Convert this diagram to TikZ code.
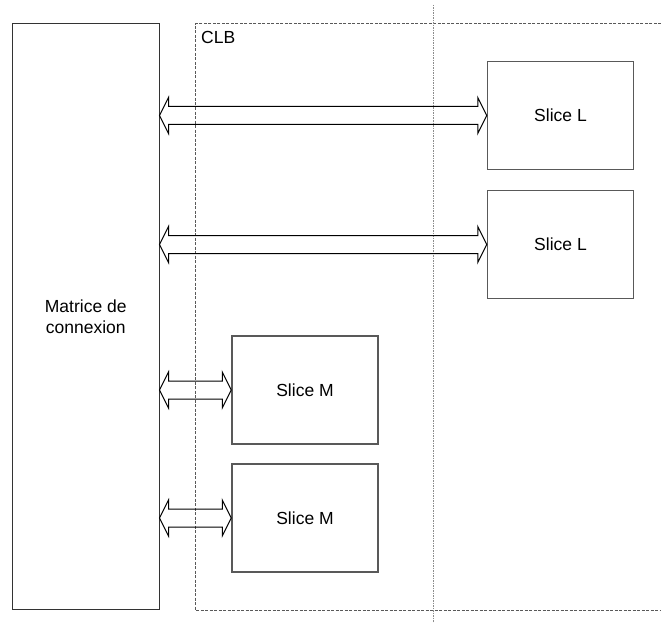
\documentclass[tikz,border=0pt]{standalone}
\usepackage{fontspec}
\setmainfont{Liberation Sans}
\usetikzlibrary{calc}
\begin{document}
\begin{tikzpicture}[x=1pt,y=-1pt,
	box/.style={draw=black!80, line width=1pt, inner sep=0pt, align=center, font=\fontsize{17.5}{21}\selectfont},
	slice/.style={box, draw=black!65, line width=1.5pt, minimum width=146pt, minimum height=108pt},
	bus/.style={draw=black, line width=1pt, line join=miter}]
	\useasboundingbox (0,0) rectangle (661,623);
	
	% CLB frame and separator
	\draw[black!65, line width=1pt, dash pattern=on 3pt off 1.5pt] (661,24) -- (195,24) -- (195,610) -- (661,610);
	\draw[black!45, line width=1pt, dash pattern=on 1.5pt off 1pt] (433,5) -- (433,623);
	\node[anchor=north west, inner sep=0pt, font=\fontsize{17.5}{21}\selectfont] (clb) at (201,31) {CLB};
	
	\node[box, minimum width=146.5pt, minimum height=585pt] (mat) at (85.75,316.5) {Matrice de\\connexion};
	
	\node[slice] (sl1) at (560.5,115.5) {Slice L};
	\node[slice] (sl2) at (560.5,244.5) {Slice L};
	\node[slice] (sm1) at (305,390) {Slice M};
	\node[slice] (sm2) at (305,518) {Slice M};
	
	% bus arrows
	\foreach \s in {sl1,sl2,sm1,sm2}
	\draw[bus] let \p1=(mat.east |- \s.west), \p2=(\s.west) in
		(\x1,\y1) -- (\x1+9pt,\y1+18pt) -- (\x1+9pt,\y1+9pt) -- (\x2-9pt,\y1+9pt) -- (\x2-9pt,\y1+18pt)
		-- (\x2,\y1) -- (\x2-9pt,\y1-18pt) -- (\x2-9pt,\y1-9pt) -- (\x1+9pt,\y1-9pt) -- (\x1+9pt,\y1-18pt) -- cycle;
	
\end{tikzpicture}
\end{document}
